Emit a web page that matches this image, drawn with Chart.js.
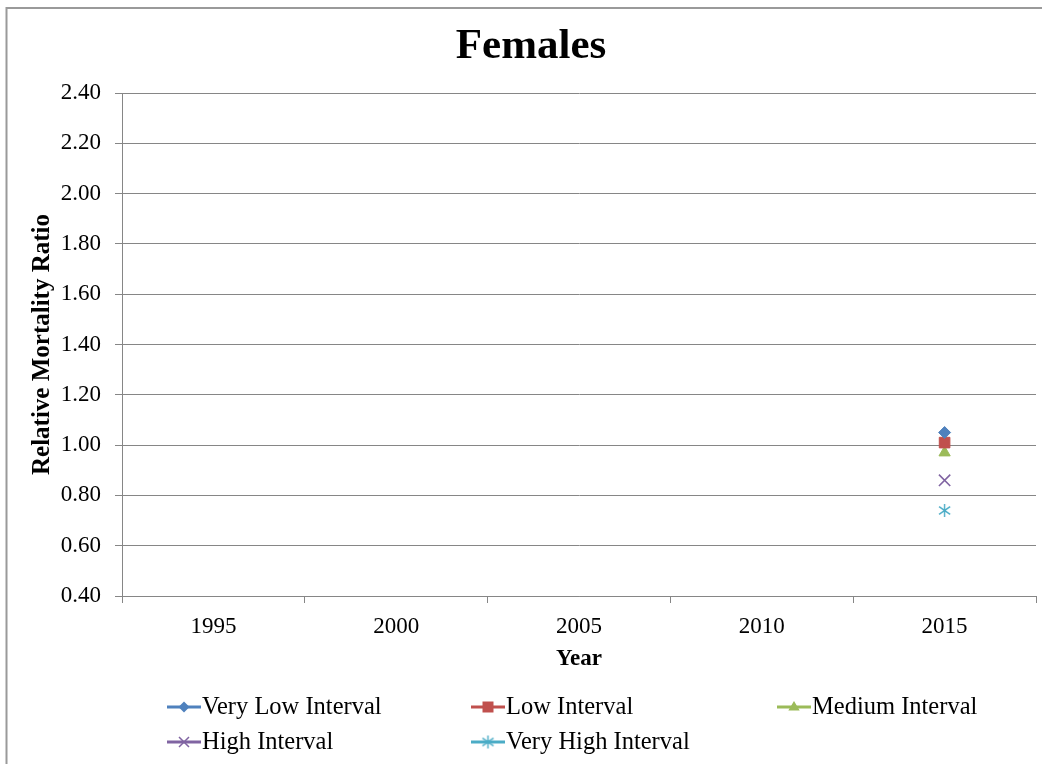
<!DOCTYPE html>
<html>
<head>
<meta charset="utf-8">
<title>Females</title>
<script src="https://cdn.jsdelivr.net/npm/chart.js@4/dist/chart.umd.min.js"></script>
<style>
  html, body { margin: 0; padding: 0; background: #ffffff; }
  #wrap { position: relative; width: 1042px; height: 764px; overflow: hidden; }
  canvas { display: block; }
</style>
</head>
<body>
<div id="wrap"><canvas id="chart" width="1042" height="764"></canvas></div>
<script>
// Categories and series values
const years = ['1995', '2000', '2005', '2010', '2015'];
const veryLowInterval  = [null, null, null, null, 1.05];
const lowInterval      = [null, null, null, null, 1.01];
const mediumInterval   = [null, null, null, null, 0.97];
const highInterval     = [null, null, null, null, 0.86];
const veryHighInterval = [null, null, null, null, 0.74];
const seriesNames = ['Very Low Interval', 'Low Interval', 'Medium Interval', 'High Interval', 'Very High Interval'];
const chartTitle = 'Females';
const yTickMin = 0.4, yTickMax = 2.4, yTickStep = 0.2;

const SERIF = '"Liberation Serif", "Times New Roman", Times, serif';
const GRID = '#868686';

// Asterisk marker: vertical stroke plus an X
function makeAsterisk(color, r) {
  const c = document.createElement('canvas');
  const s = Math.ceil(r * 2 + 4);
  c.width = s; c.height = s;
  const g = c.getContext('2d');
  const m = s / 2;
  g.strokeStyle = color; g.lineWidth = 1.4;
  g.beginPath();
  g.moveTo(m, m - r); g.lineTo(m, m + r);
  const d = r * 0.85;
  g.moveTo(m - d, m - d * 0.7); g.lineTo(m + d, m + d * 0.7);
  g.moveTo(m - d, m + d * 0.7); g.lineTo(m + d, m - d * 0.7);
  g.stroke();
  return c;
}

const colors = ['#4F81BD', '#C0504D', '#9BBB59', '#8064A2', '#4BACC6'];
const styles = ['rectRot', 'rect', 'triangle', 'crossRot', makeAsterisk('#4BACC6', 6.5)];
const radii = [6, 7.5, 6.5, 8, 6.5];
const values = [veryLowInterval, lowInterval, mediumInterval, highInterval, veryHighInterval];

const datasets = seriesNames.map((name, i) => ({
  label: name,
  data: values[i],
  borderColor: colors[i],
  backgroundColor: colors[i],
  borderWidth: 3,
  pointStyle: styles[i],
  pointRadius: radii[i],
  pointBorderWidth: (i === 3) ? 1.6 : 1,
  pointBackgroundColor: colors[i],
  pointBorderColor: colors[i],
  showLine: true,
  spanGaps: false
}));

// Grey frame around the whole chart, plus the heading
const framePlugin = {
  id: 'frame',
  beforeDraw(chart) {
    const ctx = chart.ctx;
    ctx.save();
    ctx.fillStyle = '#ffffff';
    ctx.fillRect(0, 0, chart.width, chart.height);
    ctx.strokeStyle = '#9a9a9a';
    ctx.lineWidth = 2;
    ctx.strokeRect(6.5, 8, chart.width + 40, chart.height + 40);
    ctx.fillStyle = '#000000';
    ctx.font = 'bold 43px ' + SERIF;
    ctx.textAlign = 'center';
    ctx.textBaseline = 'middle';
    ctx.fillText(chartTitle, 531, 47);
    ctx.restore();
  }
};

// Legend laid out in three columns, two rows
function drawLegendMarker(ctx, style, color, r, x, y) {
  ctx.save();
  ctx.fillStyle = color; ctx.strokeStyle = color;
  if (style instanceof HTMLCanvasElement) {
    ctx.drawImage(style, x - style.width / 2, y - style.height / 2);
    ctx.restore();
    return;
  }
  ctx.beginPath();
  if (style === 'rectRot') {
    ctx.moveTo(x, y - r); ctx.lineTo(x + r, y); ctx.lineTo(x, y + r); ctx.lineTo(x - r, y); ctx.closePath(); ctx.fill();
  } else if (style === 'rect') {
    ctx.rect(x - r, y - r, 2 * r, 2 * r); ctx.fill();
  } else if (style === 'triangle') {
    ctx.moveTo(x, y - r); ctx.lineTo(x + r * 0.95, y + r * 0.6); ctx.lineTo(x - r * 0.95, y + r * 0.6); ctx.closePath(); ctx.fill();
  } else if (style === 'crossRot') {
    ctx.lineWidth = 1.5;
    ctx.moveTo(x - r, y - r); ctx.lineTo(x + r, y + r);
    ctx.moveTo(x - r, y + r); ctx.lineTo(x + r, y - r); ctx.stroke();
  }
  ctx.restore();
}

const legendPlugin = {
  id: 'gridLegend',
  afterDraw(chart) {
    const ctx = chart.ctx;
    const colX = [167, 471, 777];
    const rowY = [707, 742];
    const markR = [5.5, 5.5, 6, 5, 5.5];
    chart.data.datasets.forEach((ds, i) => {
      const x = colX[i % 3];
      const y = rowY[Math.floor(i / 3)];
      ctx.save();
      ctx.strokeStyle = ds.borderColor;
      ctx.lineWidth = 3;
      ctx.beginPath();
      ctx.moveTo(x, y); ctx.lineTo(x + 34, y);
      ctx.stroke();
      ctx.restore();
      drawLegendMarker(ctx, ds.pointStyle, ds.borderColor, markR[i], x + 17, y);
      ctx.save();
      ctx.fillStyle = '#000000';
      ctx.font = '24.5px ' + SERIF;
      ctx.textBaseline = 'middle';
      ctx.textAlign = 'left';
      ctx.fillText(ds.label, x + 35, y + 1);
      ctx.restore();
    });
  }
};

new Chart(document.getElementById('chart'), {
  type: 'line',
  data: { labels: years, datasets },
  plugins: [framePlugin, legendPlugin],
  options: {
    responsive: false,
    animation: false,
    layout: { autoPadding: false, padding: { left: 0, right: 6, top: 93, bottom: 84 } },
    plugins: {
      legend: { display: false },
      tooltip: { enabled: false },
      title: { display: false }
    },
    scales: {
      x: {
        type: 'category',
        offset: true,
        afterFit(scale) {
          scale.height = 84;
          scale.paddingLeft = 0;
          scale.paddingRight = 0;
        },
        grid: {
          display: true,
          offset: true,
          drawOnChartArea: false,
          drawTicks: true,
          tickLength: 7,
          color: GRID,
          lineWidth: 1
        },
        border: { display: true, color: GRID, width: 1 },
        ticks: {
          color: '#000000',
          font: { family: SERIF, size: 23 },
          padding: 10,
          maxRotation: 0
        },
        title: {
          display: true,
          text: 'Year',
          color: '#000000',
          font: { family: SERIF, size: 23, weight: 'bold' },
          padding: { top: 0, bottom: 7 }
        }
      },
      y: {
        min: yTickMin,
        max: yTickMax,
        afterFit(scale) { scale.width = 122; },
        grid: {
          color: GRID,
          lineWidth: 1,
          drawTicks: true,
          tickLength: 7
        },
        border: { display: true, color: GRID, width: 1 },
        ticks: {
          stepSize: yTickStep,
          color: '#000000',
          font: { family: SERIF, size: 23 },
          padding: 14,
          callback: v => Number(v).toFixed(2)
        },
        title: {
          display: true,
          text: 'Relative Mortality Ratio',
          color: '#000000',
          font: { family: SERIF, size: 25, weight: 'bold' },
          padding: { top: 28, bottom: 0 }
        }
      }
    }
  }
});
</script>
</body>
</html>
